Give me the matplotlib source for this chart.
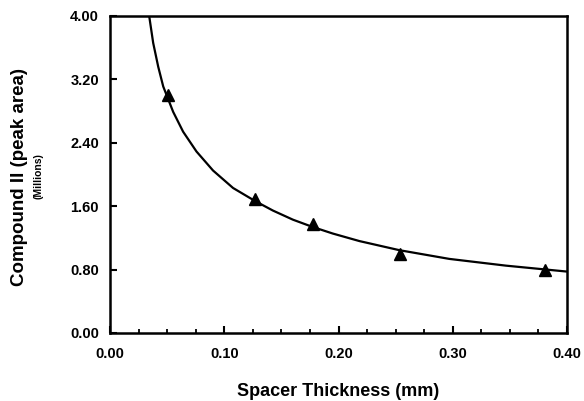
import matplotlib
matplotlib.use("Agg")
import matplotlib.pyplot as plt
from matplotlib.ticker import MultipleLocator, FormatStrFormatter

plt.rcParams['font.family'] = ['Liberation Sans', 'DejaVu Sans']

# measured data points
thickness_mm = [0.0508, 0.127, 0.1778, 0.254, 0.381]
peak_area_millions = [3.00, 1.69, 1.37, 1.00, 0.79]

# fitted curve
curve_x = [0.0343, 0.0378, 0.0422, 0.0466, 0.0553, 0.0640, 0.0757, 0.0902,
           0.1077, 0.127, 0.1426, 0.1601, 0.177, 0.195, 0.2183, 0.2533,
           0.297, 0.3465, 0.400]
curve_y = [4.00, 3.66, 3.36, 3.11, 2.79, 2.54, 2.29, 2.05,
           1.83, 1.665, 1.545, 1.43, 1.34, 1.255, 1.16, 1.045,
           0.935, 0.85, 0.775]

x_label = "Spacer Thickness (mm)"
y_label = "Compound II (peak area)"
y_sublabel = "(Millions)"

fig = plt.figure(figsize=(5.84, 4.01), dpi=100)
ax = fig.add_axes([110/584, 1-333/401, (567-110)/584, (333-16)/401])

ax.plot(curve_x, curve_y, color='black', lw=1.6, solid_joinstyle='round',
        solid_capstyle='butt', zorder=2)
ax.plot(thickness_mm, peak_area_millions, linestyle='none', marker='^',
        color='black', markersize=8, zorder=3)

ax.set_xlim(0, 0.40)
ax.set_ylim(0, 4.00)
ax.xaxis.set_major_locator(MultipleLocator(0.1))
ax.xaxis.set_minor_locator(MultipleLocator(0.025))
ax.yaxis.set_major_locator(MultipleLocator(0.8))
ax.xaxis.set_major_formatter(FormatStrFormatter('%.2f'))
ax.yaxis.set_major_formatter(FormatStrFormatter('%.2f'))

for s in ax.spines.values():
    s.set_linewidth(1.8)

ax.tick_params(axis='both', which='major', direction='in', length=5, width=1.5,
               labelsize=10.5, pad=8)
ax.tick_params(axis='x', which='minor', direction='in', length=3, width=1.3)
ax.tick_params(axis='x', which='major', pad=10)
for lbl in ax.get_xticklabels() + ax.get_yticklabels():
    lbl.set_fontweight('bold')

fig.text(338/584, 1-392/401, x_label, ha='center', va='center',
         fontsize=13, fontweight='bold')
fig.text(20/584, 1-177/401, y_label, ha='center', va='center', rotation=90,
         fontsize=13.5, fontweight='bold')
fig.text(38/584, 1-176/401, y_sublabel, ha='center', va='center', rotation=90,
         fontsize=7.5, fontweight='bold')

fig.savefig('out.png', dpi=100)
